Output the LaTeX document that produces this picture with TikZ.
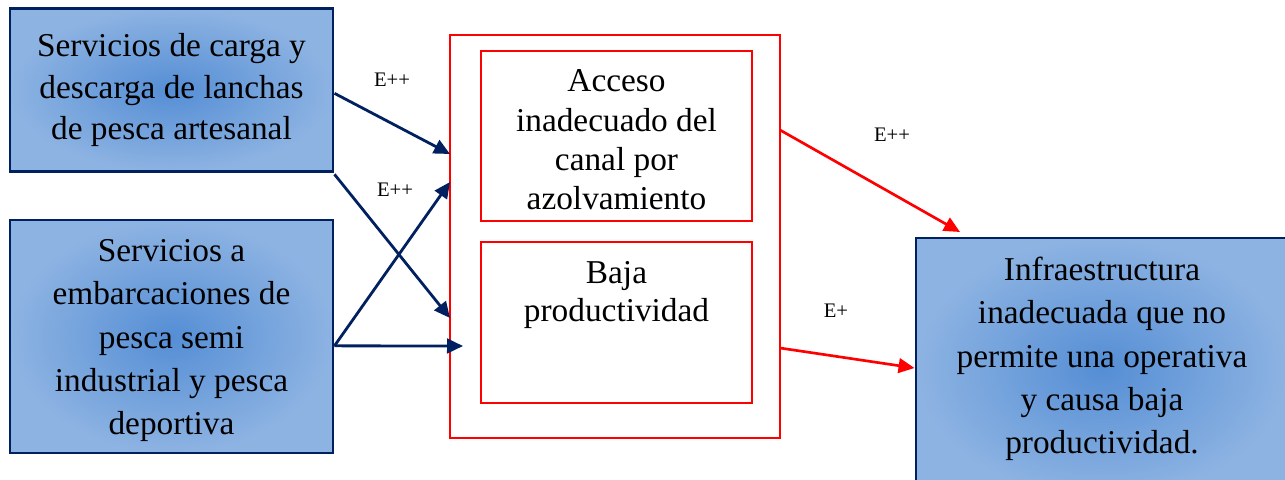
\documentclass[tikz,border=0pt]{standalone}
\usepackage{fontspec}
\setmainfont{Liberation Serif}
\newfontfamily\lblfont{Liberation Serif}
\usetikzlibrary{arrows.meta,calc}
\definecolor{navy}{HTML}{002060}
\definecolor{bluein}{HTML}{558ED5}
\definecolor{blueout}{HTML}{8DB3E2}
\definecolor{redc}{HTML}{FF0000}
\begin{document}
\begin{tikzpicture}[x=0.75pt,y=-0.75pt,
  boxfont/.style={font=\fontsize{25}{32.5}\selectfont},
  bluebox/.style={draw=navy, line width=2.2pt, shading=radial, inner color=bluein, outer color=blueout, inner sep=0pt, align=center, boxfont},
  redbox/.style={draw=redc, line width=2.2pt, inner sep=0pt, align=center, boxfont},
  txt/.style={align=center, boxfont, inner sep=0pt},
  lbl/.style={font=\lblfont\fontsize{15.5}{18}\selectfont, inner sep=0pt},
  navyarrow/.style={draw=navy, line width=2.1pt, -{Triangle[length=12pt,width=11pt]}},
  redarrow/.style={draw=redc, line width=2pt, -{Triangle[length=12pt,width=11pt]}},
]
\useasboundingbox (0,0) rectangle (1285,479);

\node[bluebox, minimum width=242.25pt, minimum height=122.25pt, font=\fontsize{25}{31}\selectfont] (A) at (171.5,90)
  {Servicios de carga y\\descarga de lanchas\\de pesca artesanal};
\node[bluebox, minimum width=242.25pt, minimum height=174.75pt] (B) at (171.5,336.5)
  {\rule{0pt}{23pt}Servicios a\\embarcaciones de\\pesca semi\\industrial y pesca\\deportiva};

\node[redbox, minimum width=247.5pt, minimum height=302.25pt] (O) at (615,236.5) {};
\node[redbox, minimum width=203.25pt, minimum height=127.5pt] (T) at (616.5,136) {};
\node[txt, font=\fontsize{25}{29.5}\selectfont] (Ttxt) at (616.5,140)
  {Acceso\\inadecuado del\\canal por\\azolvamiento};
\node[redbox, minimum width=203.25pt, minimum height=120.75pt] (P) at (616.5,322.5) {};
\node[txt, font=\fontsize{25}{29}\selectfont] (Ptxt) at (616.5,295) {Baja\\productividad};

\node[bluebox, minimum width=279pt, minimum height=195pt] (R) at (1102,368) {};
\node[txt] (Rtxt) at (1102,359)
  {Infraestructura\\inadecuada que no\\permite una operativa\\y causa baja\\productividad.};

\coordinate (a1) at (450,154);
\coordinate (a2) at (450,318);
\coordinate (b1) at (450,182);
\coordinate (b2) at (463,346);
\coordinate (o1) at (780,130);
\coordinate (o2) at (780,348);
\coordinate (r1) at (960,232);

\draw[navyarrow] ([yshift=-2.5pt]A.east) -- (a1);
\draw[navyarrow] ([yshift=-1pt]A.south east) -- (a2);
\draw[navyarrow] ([yshift=-7pt]B.east) -- (b1);
\draw[navyarrow] ([yshift=-7pt]B.east) -- (b2);
\draw[redarrow] (o1) -- (r1);
\draw[redarrow] (o2) -- (R.west);

\node[lbl] (l1) at (392,80) {E++};
\node[lbl] (l2) at (395,190) {E++};
\node[lbl] (l3) at (892,135) {E++};
\node[lbl] (l4) at (836,311) {E+};
\end{tikzpicture}
\end{document}
